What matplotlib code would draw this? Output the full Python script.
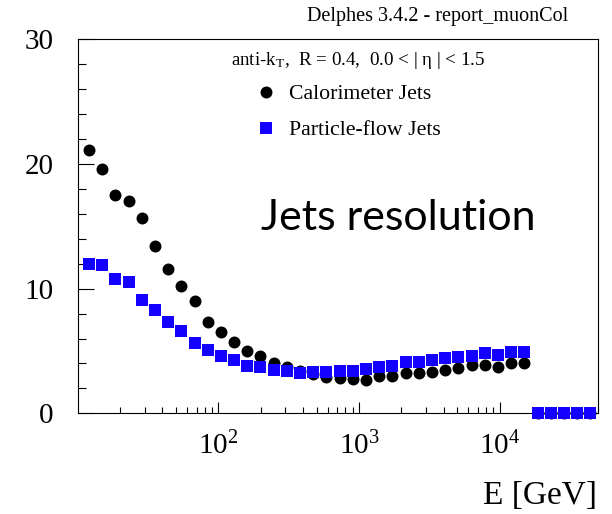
import matplotlib
matplotlib.use("Agg")
import matplotlib.pyplot as plt
from matplotlib.lines import Line2D
from matplotlib.ticker import LogLocator, MultipleLocator, FixedLocator, LogFormatterSciNotation

plt.rcParams['font.family'] = ['Liberation Serif', 'DejaVu Serif']
plt.rcParams['mathtext.fontset'] = 'custom'
plt.rcParams['mathtext.rm'] = 'Liberation Serif'
plt.rcParams['mathtext.it'] = 'Liberation Serif:italic'

# bin centres, E [GeV]
energy = [12.0, 14.9, 18.5, 23.0, 28.5, 35.4, 43.9, 54.5, 67.7, 84.0,
          104, 129, 161, 199, 247, 307, 381, 473, 587, 728,
          904, 1122, 1392, 1728, 2144, 2661, 3303, 4099, 5088, 6314,
          7834, 9723, 12070, 14980, 18590, 23070, 28630, 35530, 44100]

# resolution [%]
calo_jets = [21.1, 19.6, 17.5, 17.0, 15.7, 13.4, 11.6, 10.2, 9.0, 7.35,
             6.5, 5.75, 5.0, 4.6, 4.05, 3.7, 3.4, 3.14, 2.9, 2.82,
             2.72, 2.65, 3.03, 3.0, 3.24, 3.27, 3.32, 3.5, 3.6, 3.86,
             3.86, 3.72, 4.0, 4.0, 0, 0, 0, 0, 0]
pflow_jets = [12.0, 11.9, 10.75, 10.5, 9.1, 8.3, 7.35, 6.6, 5.65, 5.1,
              4.6, 4.26, 3.83, 3.68, 3.46, 3.4, 3.24, 3.32, 3.32, 3.4,
              3.4, 3.56, 3.7, 3.83, 4.13, 4.13, 4.24, 4.45, 4.48, 4.59,
              4.8, 4.64, 4.88, 4.88, 0, 0, 0, 0, 0]

x_labelled = [1e2, 1e3, 1e4]

W, H = 612, 514
fig = plt.figure(figsize=(W / 100, H / 100), dpi=100)
ax = fig.add_axes([77.7 / W, 1 - 413.3 / H, (598 - 77.7) / W, (413.3 - 39.3) / H])

ax.plot(energy, calo_jets, 'o', color='black', ms=8.6, mew=0, clip_on=False, zorder=3)
ax.plot(energy, pflow_jets, 's', color='#1400ff', ms=8.4, mew=0, clip_on=False, zorder=4)

ax.set_xscale('log')
ax.set_xlim(10, 50000)
ax.set_ylim(0, 30)

ax.yaxis.set_major_locator(MultipleLocator(10))
ax.yaxis.set_minor_locator(MultipleLocator(2))
ax.xaxis.set_major_locator(FixedLocator(x_labelled))
ax.xaxis.set_minor_locator(LogLocator(base=10, subs=range(2, 10), numticks=20))
ax.xaxis.set_major_formatter(LogFormatterSciNotation())
ax.xaxis.set_minor_formatter(plt.NullFormatter())

ax.tick_params(axis='y', which='major', direction='in', length=11.3, width=0.8, pad=17.5, labelsize=21)
ax.tick_params(axis='y', which='minor', direction='in', length=6, width=0.8)
ax.tick_params(axis='x', which='major', direction='in', length=8, width=0.8, pad=13.5, labelsize=21)
ax.tick_params(axis='x', which='minor', direction='in', length=4, width=0.8)
for s in ax.spines.values():
    s.set_linewidth(0.8)

fig.text(568 / W, 1 - 21 / H, 'Delphes 3.4.2 - report_muonCol', ha='right', va='baseline', fontsize=14.5)
fig.text(597 / W, 1 - 504 / H, 'E [GeV]', ha='right', va='baseline', fontsize=24)

fig.text(358 / W, 1 - 65 / H,
         r'anti-k$_{\mathregular{T}}$,  R = 0.4,  0.0 < | η | < 1.5',
         ha='center', va='baseline', fontsize=13.7)

handles = [Line2D([], [], ls='none', marker='o', color='black', ms=8.6, mew=0),
           Line2D([], [], ls='none', marker='s', color='#1400ff', ms=8.4, mew=0)]
ax.legend(handles, ['Calorimeter Jets', 'Particle-flow Jets'], loc='upper left',
          bbox_to_anchor=(254.8 / W, 1 - 84 / H), bbox_transform=fig.transFigure,
          frameon=False, fontsize=15.7, borderpad=0, borderaxespad=0,
          handlelength=1.0, handletextpad=0.58, labelspacing=0.73)

fig.text(398 / W, 1 - 230 / H, 'Jets resolution', family='Lato', fontsize=31,
         ha='center', va='baseline')

fig.savefig('out.png', dpi=100)
